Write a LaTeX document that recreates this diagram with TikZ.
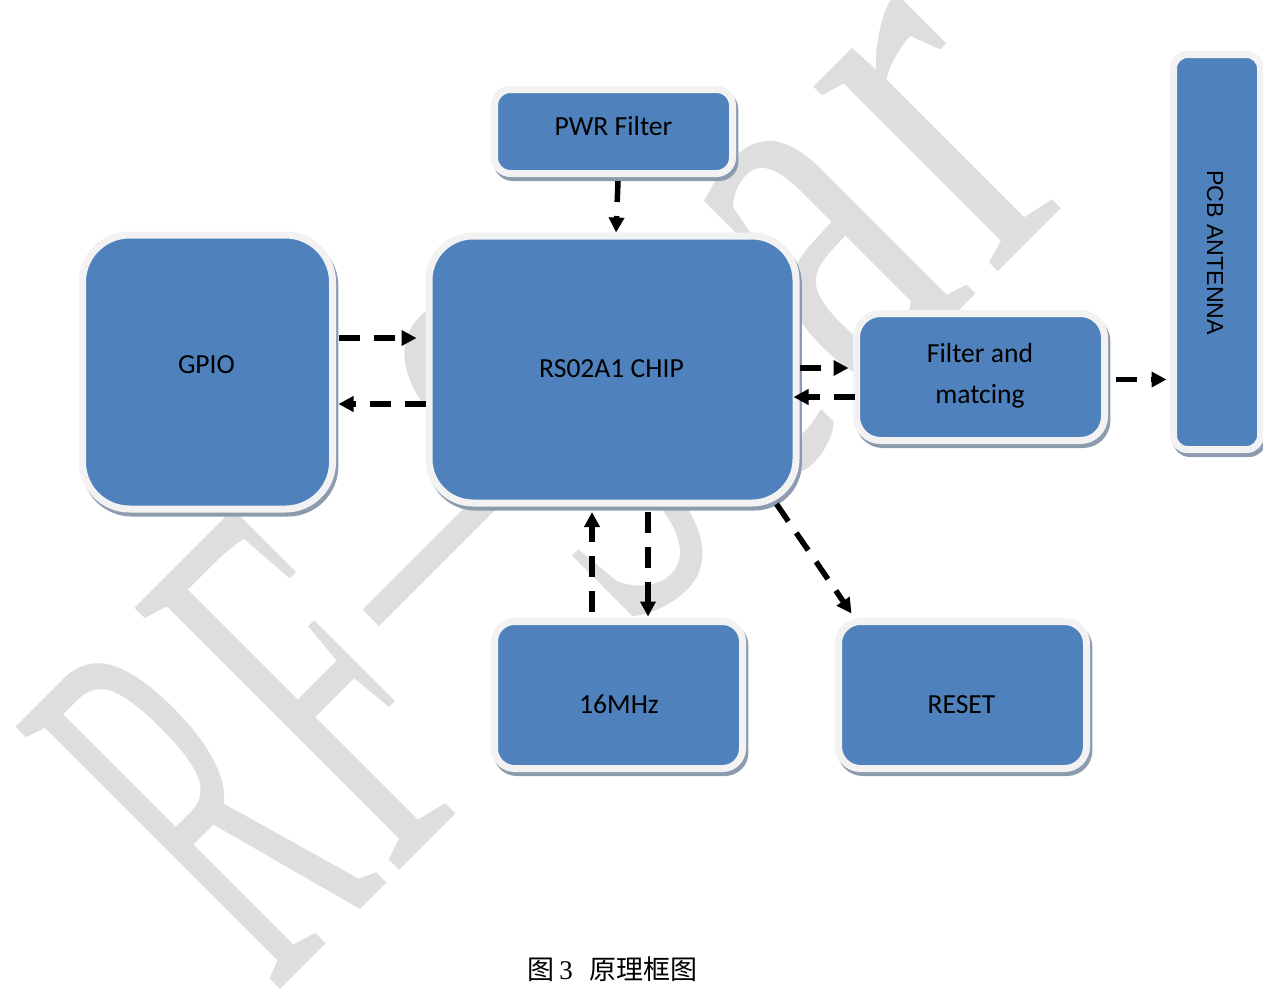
\documentclass[tikz,border=0pt]{standalone}
\usepackage{fontspec}
\setmainfont{Carlito}
\newfontfamily\wmfont{Liberation Serif}
\newfontfamily\labelsans{Liberation Sans}
\newfontfamily\cjkfont{Noto Sans CJK SC}
\usetikzlibrary{arrows.meta,calc}

\definecolor{boxblue}{RGB}{79,129,189}
\definecolor{rimgray}{RGB}{242,242,242}
\definecolor{shadowc}{RGB}{141,155,175}
\definecolor{wmgray}{RGB}{222,222,222}

\tikzset{
  box/.style={draw=rimgray, fill=boxblue, line width=3.5pt, inner sep=0pt,
    preaction={draw=shadowc, fill=shadowc, line width=3.5pt,
      transform canvas={xshift=1.2pt, yshift=-2pt}}},
  lbl/.style={anchor=base, inner sep=0pt, font=\fontsize{13.8pt}{16pt}\selectfont},
  flow/.style={line width=2.75pt, dash pattern=on 10.5pt off 7pt,
    -{Triangle[length=7.5pt,width=7.5pt]}},
  wm/.style={anchor=base, inner sep=0pt, text=wmgray, rotate=45,
    font=\wmfont\fontsize{284.5pt}{290pt}\selectfont},
}

\begin{document}
\begin{tikzpicture}[x=0.5pt,y=-0.5pt]
\useasboundingbox (0,0) rectangle (1263,993);
\fill[white] (0,0) rectangle (1263,993);
\clip (0,0) rectangle (1263,993);

% watermark lettering
\node[wm] (wR) at (331,939) {\scalebox{0.42}[1]{R}};
\node[wm] (wF) at (448,822) {\scalebox{0.5}[1]{F}};
\node[wm] (wH) at (575,697) {\raisebox{63pt}{\scalebox{1.2}[0.55]{-}}};
\node[wm] (wS) at (685,585) {\scalebox{0.5}[1]{S}};
\node[wm] (wt) at (803.5,466.5) {\scalebox{0.7}[1]{t}};
\node[wm] (wa) at (922,348) {\scalebox{0.65}[1]{a}};
\node[wm] (wr) at (1040.5,229.5) {\scalebox{0.72}[1]{r}};

% blocks
\node[box, minimum width=119pt, minimum height=42pt, rounded corners=8pt] (pwr) at (613.5,131.5) {};
\node[box, minimum width=125pt, minimum height=137pt, rounded corners=23.5pt] (gpio) at (207.5,372) {};
\node[box, minimum width=183.5pt, minimum height=133.5pt, rounded corners=22pt] (chip) at (612.5,369.5) {};
\node[box, minimum width=124pt, minimum height=63.5pt, rounded corners=12pt] (filt) at (980.5,377) {};
\node[box, minimum width=43.5pt, minimum height=197.5pt, rounded corners=7pt] (ant) at (1217,252) {};
\node[box, minimum width=124pt, minimum height=73.5pt, rounded corners=10pt] (xtal) at (618.5,695) {};
\node[box, minimum width=124pt, minimum height=73.5pt, rounded corners=11pt] (reset) at (962.5,695) {};

% block labels
\node[lbl] (tpwr) at (613.5,135) {PWR Filter};
\node[lbl] (tgpio) at (206.5,373) {GPIO};
\node[lbl] (tchip) at (611.5,377) {RS02A1 CHIP};
\node[lbl] (tfilt1) at (980,362) {Filter and};
\node[lbl] (tfilt2) at (980,403) {matcing};
\node[lbl] (txtal) at (619,713) {16MHz};
\node[lbl] (treset) at (961.5,713) {RESET};
\node[anchor=base, rotate=-90, inner sep=0pt,
      font=\labelsans\fontsize{11.6pt}{14pt}\selectfont] (tant) at (1207,252.5) {PCB ANTENNA};

% signal flow
\draw[flow] ($(pwr.south)+(4.5,4)$) -- ($(chip.north)+(3.5,0)$);
\draw[flow] ($(gpio.east)+(3,-34)$) -- ($(chip.west)+(-9,-31.5)$);
\draw[flow] ($(chip.west)+(0,34.5)$) -- ($(gpio.east)+(2.5,32)$);
\draw[flow] ($(chip.east)+(0,-1.5)$) -- ($(filt.west)+(-4.5,-9)$);
\draw[flow] ($(filt.west)+(1.5,20)$) -- ($(chip.east)+(-6,27.5)$);
\draw[flow] ($(filt.east)+(7.5,2.5)$) -- ($(ant.west)+(-3.5,127.5)$);
\draw[flow] ($(xtal.north)+(-26.5,-6.5)$) -- ($(chip.south)+(-20.5,5.5)$);
\draw[flow] ($(chip.south)+(35.5,5.5)$) -- ($(xtal.north)+(29.5,-1.5)$);
\draw[flow] ($(chip.south east)+(-23,-2.5)$) -- ($(reset.north west)+(16.5,-4.5)$);

% caption
\node[anchor=base, inner sep=0pt] (cap) at (612.5,979)
  {\cjkfont\fontsize{13.5pt}{16pt}\selectfont 图\hspace{2.5pt}{\wmfont 3}\hspace{8.5pt}原理框图};
\end{tikzpicture}
\end{document}
